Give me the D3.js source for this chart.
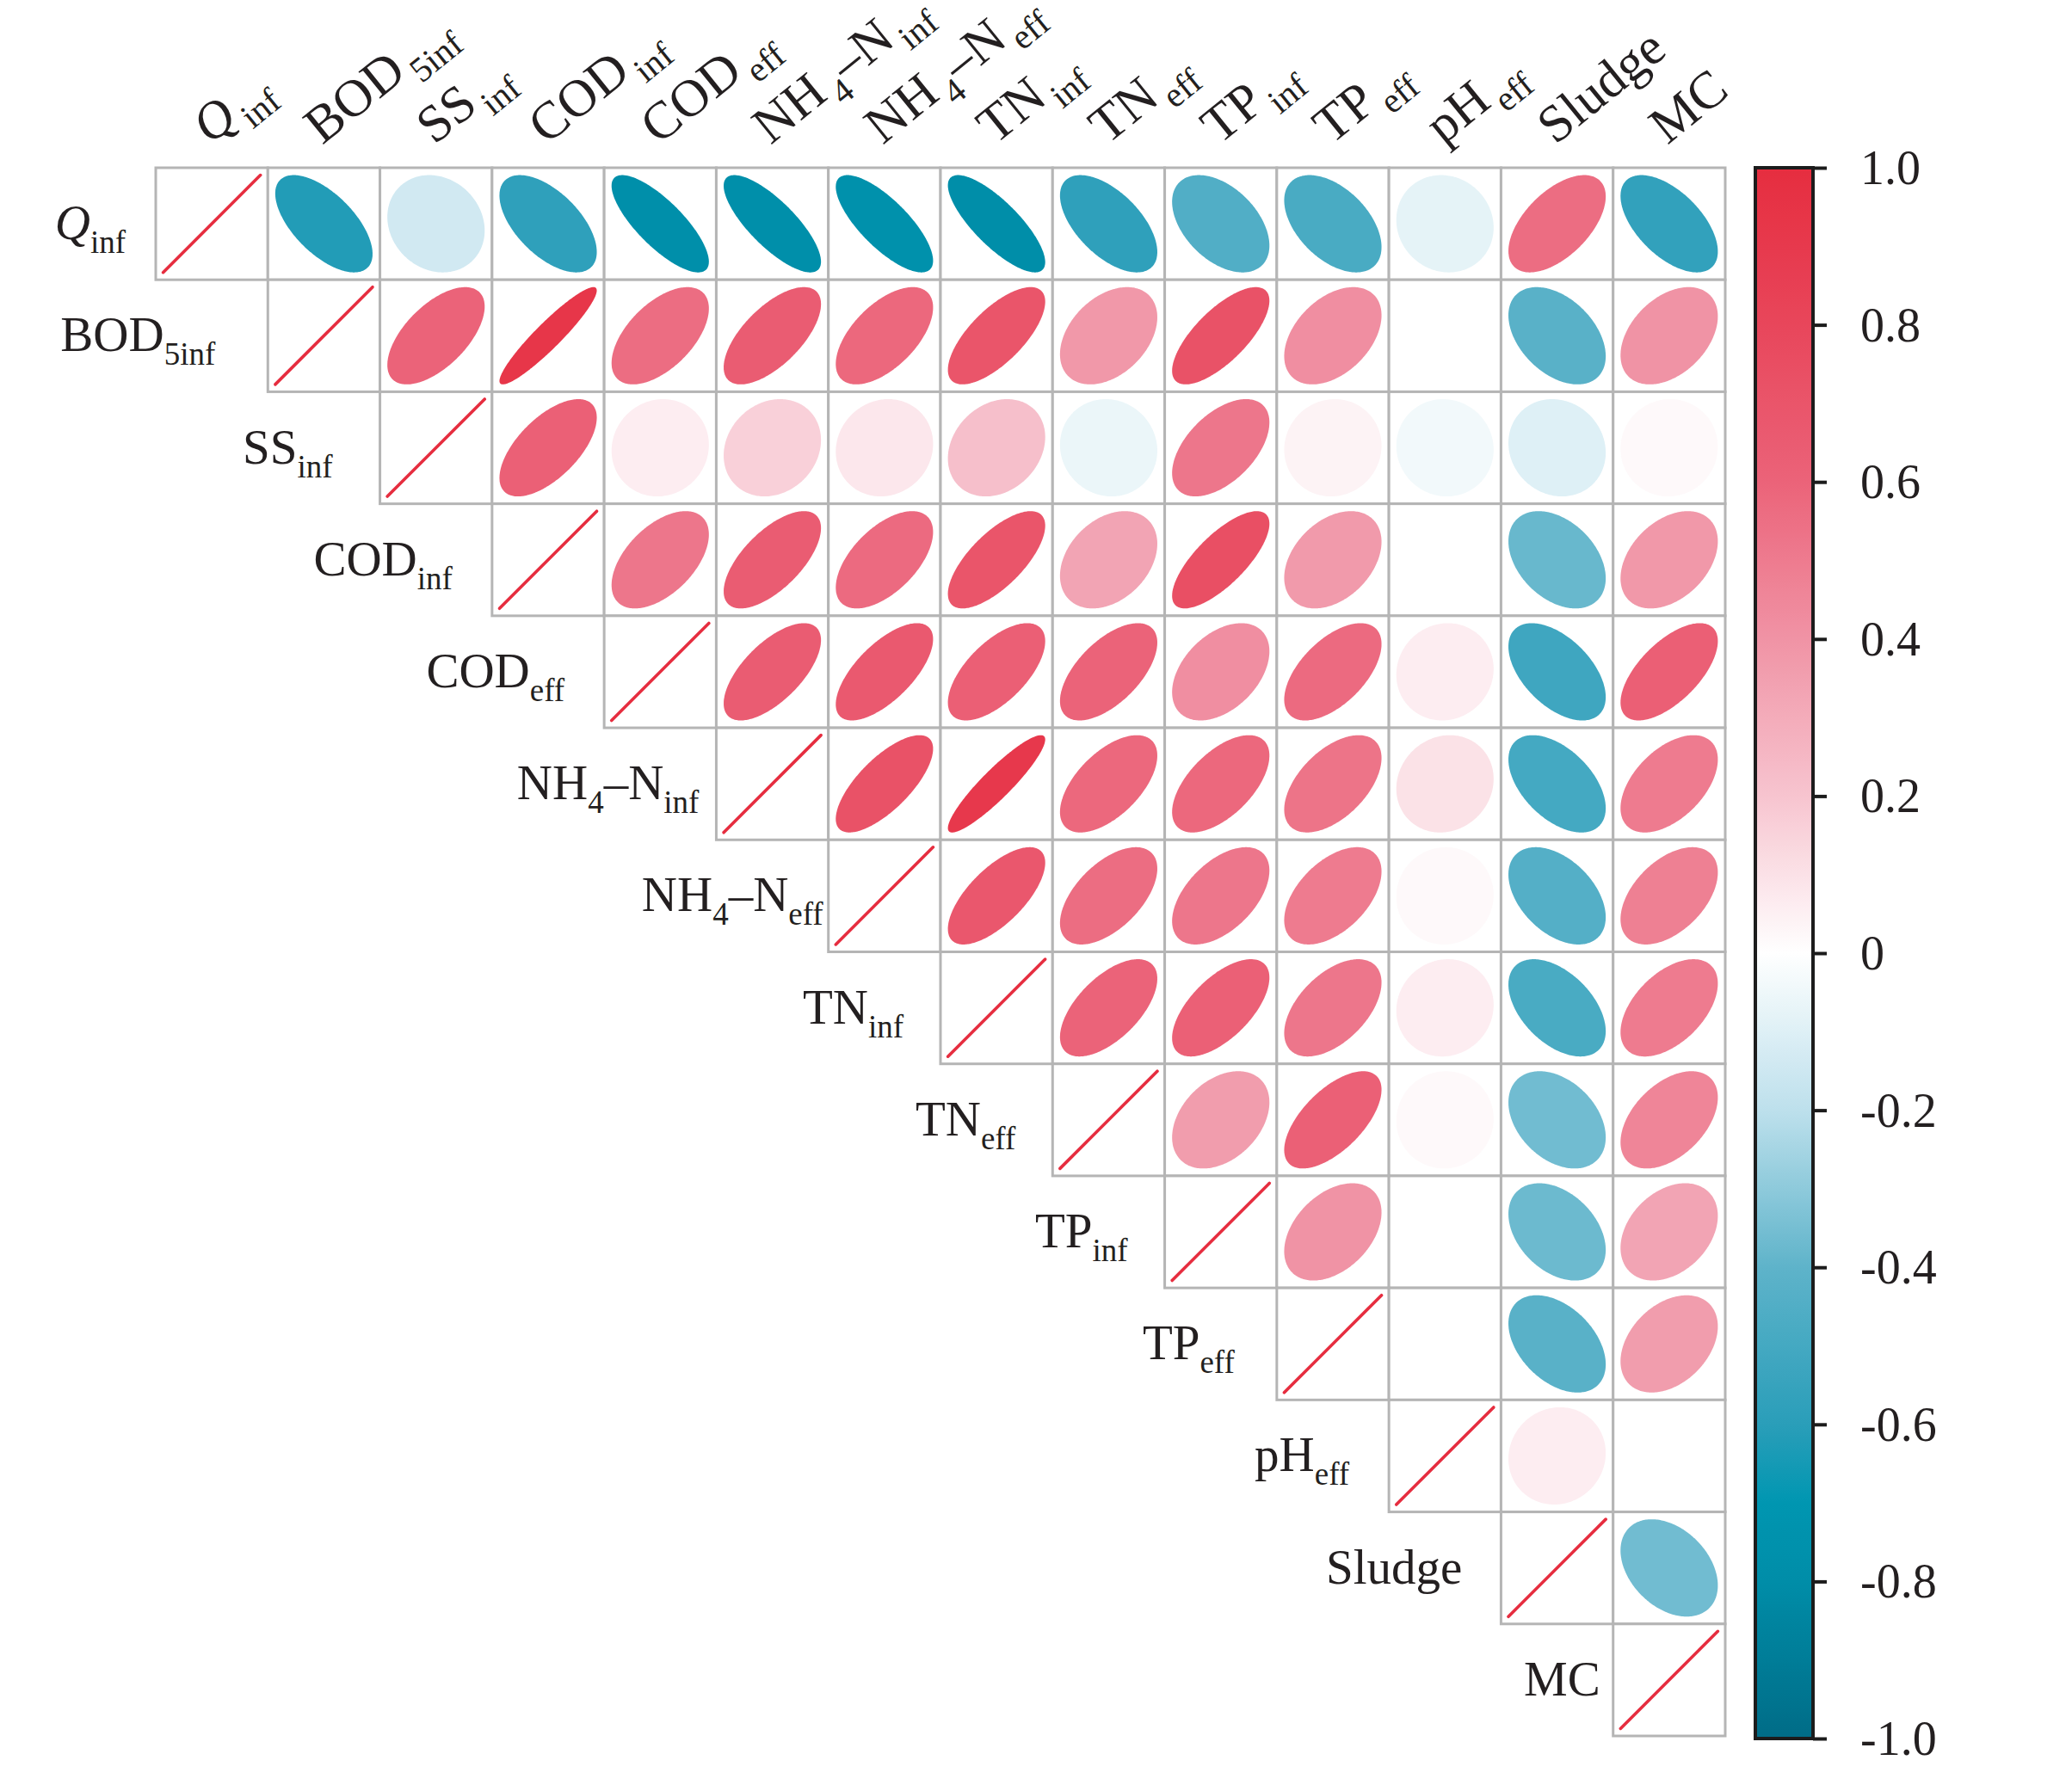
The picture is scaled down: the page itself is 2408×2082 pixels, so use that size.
<!DOCTYPE html>
<html>
<head>
<meta charset="utf-8">
<script src="https://cdn.jsdelivr.net/npm/d3@7/dist/d3.min.js"></script>
<style>
  html, body { margin: 0; padding: 0; background: #ffffff; }
  svg { display: block; }
  text { font-family: "Liberation Serif", "Times New Roman", "DejaVu Serif", serif; fill: #231f20; }
</style>
</head>
<body>
<svg id="chart" width="2408" height="2082"></svg>
<script>
// ---------------- DATA ----------------
const variables = ["Qinf","BOD5inf","SSinf","CODinf","CODeff","NH4Ninf","NH4Neff","TNinf","TNeff","TPinf","TPeff","pHeff","Sludge","MC"];
// label segments: even index = normal text, odd index = subscript
const labelParts = [
  ["Q","inf"], ["BOD","5inf"], ["SS","inf"], ["COD","inf"], ["COD","eff"],
  ["NH","4","\u2013N","inf"], ["NH","4","\u2013N","eff"], ["TN","inf"], ["TN","eff"],
  ["TP","inf"], ["TP","eff"], ["pH","eff"], ["Sludge"], ["MC"]
];
// upper-triangle correlations, each row starts at the column right after the diagonal (null = blank cell)
const rowQinf    = [-0.62, -0.14, -0.58, -0.78, -0.78, -0.76, -0.79, -0.58, -0.45, -0.48, -0.08, 0.56, -0.57];
const rowBOD5inf = [0.60, 0.93, 0.56, 0.65, 0.58, 0.70, 0.38, 0.72, 0.42, null, -0.42, 0.40];
const rowSSinf   = [0.62, 0.06, 0.16, 0.08, 0.22, -0.06, 0.52, 0.04, -0.04, -0.10, 0.02];
const rowCODinf  = [0.52, 0.65, 0.57, 0.70, 0.33, 0.74, 0.37, null, -0.38, 0.38];
const rowCODeff  = [0.65, 0.67, 0.63, 0.60, 0.42, 0.57, 0.06, -0.52, 0.63];
const rowNH4Ninf = [0.72, 0.91, 0.58, 0.58, 0.53, 0.10, -0.50, 0.50];
const rowNH4Neff = [0.68, 0.56, 0.52, 0.50, 0.02, -0.44, 0.48];
const rowTNinf   = [0.60, 0.62, 0.52, 0.06, -0.48, 0.50];
const rowTNeff   = [0.36, 0.62, 0.02, -0.36, 0.46];
const rowTPinf   = [0.40, null, -0.37, 0.33];
const rowTPeff   = [null, -0.42, 0.36];
const rowpHeff   = [0.06, null];
const rowSludge  = [-0.36];
const corrRows = [rowQinf, rowBOD5inf, rowSSinf, rowCODinf, rowCODeff, rowNH4Ninf, rowNH4Neff,
                  rowTNinf, rowTNeff, rowTPinf, rowTPeff, rowpHeff, rowSludge, []];

const colorStops  = [-1.0, -0.8, -0.7, -0.6, -0.4, -0.2, 0, 0.2, 0.4, 0.6, 0.8, 1.0];
const colorValues = ["#006c87","#008da8","#0096b1","#2a9eb9","#5eb3ca","#bde0ec","#ffffff","#f7c4cf","#f093a5","#eb6379","#e8465b","#e62d3f"];
const barTicks      = [1.0, 0.8, 0.6, 0.4, 0.2, 0, -0.2, -0.4, -0.6, -0.8, -1.0];
const barTickLabels = ["1.0","0.8","0.6","0.4","0.2","0","-0.2","-0.4","-0.6","-0.8","-1.0"];

// ---------------- LAYOUT ----------------
const gridLeft = 181, gridRight = 2005, gridTop = 195, gridBottom = 2018;
const leftLabelGap = [35, 61, 55, 46, 46, 20, 6, 43, 43, 43, 49, 46, 45, 15];
const leftMain = 57, leftSub = 37, leftShift = 16;
const topMain = 61, topSub = 41, topShift = 17;

const svg = d3.select("#chart");

const x = d3.scaleBand().domain(variables).range([gridLeft, gridRight]);
const y = d3.scaleBand().domain(variables).range([gridTop, gridBottom]);
const color = d3.scaleLinear().domain(colorStops).range(colorValues).clamp(true);

// build cell list
const cells = [];
variables.forEach((rv, i) => {
  cells.push({ row: rv, col: rv, r: 1, diag: true });
  corrRows[i].forEach((v, k) => {
    cells.push({ row: rv, col: variables[i + 1 + k], r: v, diag: false });
  });
});

const bw = x.bandwidth();
const R = 0.434 * bw;

// cell boxes
svg.append("g").selectAll("rect").data(cells).join("rect")
  .attr("x", d => x(d.col))
  .attr("y", d => y(d.row))
  .attr("width", bw)
  .attr("height", y.bandwidth())
  .attr("fill", "#ffffff")
  .attr("stroke", "#b5b5b5")
  .attr("stroke-width", 3);

// ellipse geometry (corrplot style)
function ellipsePoints(r) {
  const d = Math.acos(Math.max(-1, Math.min(1, r)));
  return d3.range(0, 240).map(i => {
    const t = 2 * Math.PI * i / 240;
    return [R * Math.cos(t + d / 2), -R * Math.cos(t - d / 2)];
  });
}
const closedLine = d3.line().curve(d3.curveLinearClosed);

const marks = svg.append("g");
cells.filter(d => !d.diag && d.r !== null).forEach(d => {
  marks.append("path")
    .attr("transform", `translate(${x(d.col) + bw / 2},${y(d.row) + y.bandwidth() / 2})`)
    .attr("d", closedLine(ellipsePoints(d.r)))
    .attr("fill", color(d.r));
});
cells.filter(d => d.diag).forEach(d => {
  marks.append("line")
    .attr("x1", x(d.col) + bw / 2 - R).attr("y1", y(d.row) + y.bandwidth() / 2 + R)
    .attr("x2", x(d.col) + bw / 2 + R).attr("y2", y(d.row) + y.bandwidth() / 2 - R)
    .attr("stroke", color(1))
    .attr("stroke-width", 3.6)
    .attr("stroke-linecap", "round");
});

// label writer
function writeLabel(textSel, parts, gapBeforeSub, mainSize, subSize, subShift) {
  parts.forEach((p, k) => {
    const isSub = k % 2 === 1;
    const ts = textSel.append("tspan").text(p);
    if (isSub) {
      ts.attr("font-size", subSize).attr("dy", subShift).attr("dx", gapBeforeSub);
    } else {
      ts.attr("font-size", mainSize);
      if (k > 0) ts.attr("dy", -subShift);
      if (p === "Q") ts.attr("font-style", "italic");
    }
  });
}

// left (row) labels
const rowLab = svg.append("g");
variables.forEach((v, i) => {
  const t = rowLab.append("text")
    .attr("x", x(v) - leftLabelGap[i])
    .attr("y", y(v) + y.bandwidth() / 2 + 18)
    .attr("text-anchor", "end");
  writeLabel(t, labelParts[i], 0, leftMain, leftSub, leftShift);
});

// top (column) labels
const colLab = svg.append("g");
variables.forEach((v, i) => {
  const ax = x(v) + bw / 2 - 2, ay = gridTop - 26;
  const t = colLab.append("text")
    .attr("transform", `translate(${ax},${ay}) rotate(-39)`)
    .attr("x", 0).attr("y", 0)
    .attr("text-anchor", "start");
  writeLabel(t, labelParts[i], 6, topMain, topSub, topShift);
});

// ---------------- COLOR BAR ----------------
const barX = 2040, barW = 67, barTop = 195, barBottom = 2021;
const barScale = d3.scaleLinear().domain([-1, 1]).range([barBottom, barTop]);

const defs = svg.append("defs");
const grad = defs.append("linearGradient").attr("id", "cbar")
  .attr("x1", 0).attr("y1", 1).attr("x2", 0).attr("y2", 0);
d3.range(-1, 1.0001, 0.02).forEach(v => {
  grad.append("stop")
    .attr("offset", (v + 1) / 2)
    .attr("stop-color", color(v));
});

svg.append("rect")
  .attr("x", barX).attr("y", barTop)
  .attr("width", barW).attr("height", barBottom - barTop)
  .attr("fill", "url(#cbar)")
  .attr("stroke", "#1c1c1c")
  .attr("stroke-width", 4);

const barAxis = d3.axisRight(barScale)
  .tickValues(barTicks)
  .tickSize(16)
  .tickPadding(39)
  .tickFormat((d, i) => barTickLabels[i]);

const ag = svg.append("g")
  .attr("transform", `translate(${barX + barW},0)`)
  .call(barAxis);
ag.select(".domain").remove();
ag.selectAll(".tick line").attr("stroke", "#1c1c1c").attr("stroke-width", 4);
ag.selectAll(".tick text")
  .attr("font-family", "'Liberation Serif', 'Times New Roman', serif")
  .attr("font-size", 56)
  .attr("fill", "#231f20")
  .attr("dy", "0.33em");
</script>
</body>
</html>
